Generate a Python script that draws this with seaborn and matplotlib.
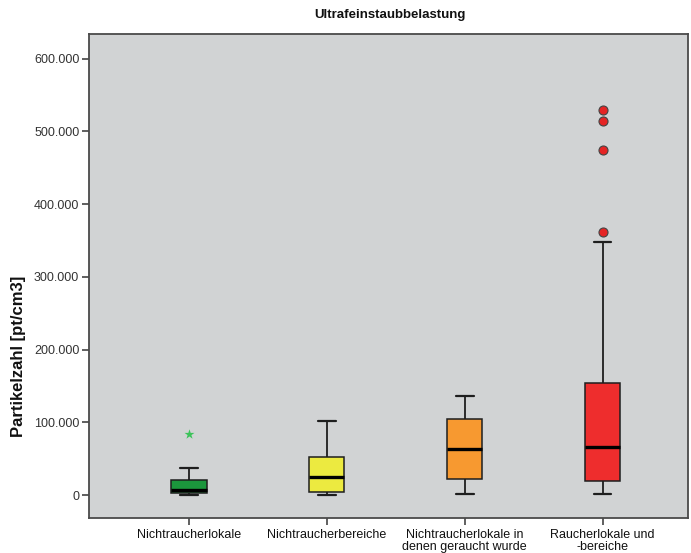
import numpy as np
import pandas as pd
import matplotlib
matplotlib.use("Agg")
import matplotlib.pyplot as plt
import seaborn as sns
from matplotlib.ticker import FuncFormatter, FixedLocator

# Five-number summaries per venue type (particles per cm3)
categories = [
    "Nichtraucherlokale",
    "Nichtraucherbereiche",
    "Nichtraucherlokale in\ndenen geraucht wurde",
    "Raucherlokale und\n-bereiche",
]
whisker_low = [400, 0, 1800, 1800]
q1 = [2300, 3700, 22000, 19300]
median = [6900, 25200, 62900, 65600]
q3 = [20600, 52300, 104200, 154600]
whisker_high = [36700, 102300, 136200, 347700]
extreme_values = [[83500], [], [], []]
outlier_values = [[], [], [], [362300, 474700, 514200, 529800]]
box_colors = ["#1b963c", "#ecea40", "#f79930", "#ee2d2d"]
y_ticks = [0, 100000, 200000, 300000, 400000, 500000, 600000]

# Expand each summary into a sample whose quartiles and whisker ends reproduce it
rows = []
for i, cat in enumerate(categories):
    block = 10
    vals = ([whisker_low[i]] + [q1[i]] * block + [median[i]] * block
            + [q3[i]] * block + [whisker_high[i]]
            + extreme_values[i] + outlier_values[i])
    rows += [(cat, v) for v in vals]
df = pd.DataFrame(rows, columns=["group", "value"])

ext_df = pd.DataFrame([(c, v) for c, vs in zip(categories, extreme_values) for v in vs],
                      columns=["group", "value"])
out_df = pd.DataFrame([(c, v) for c, vs in zip(categories, outlier_values) for v in vs],
                      columns=["group", "value"])

sns.set_style("white")
plt.rcParams["font.family"] = ["Liberation Sans", "DejaVu Sans"]

fig = plt.figure(figsize=(6.91, 5.53), dpi=100)
ax = fig.add_axes([89 / 691, 1 - 518 / 553, (688 - 89) / 691, (518 - 34) / 553])
ax.set_facecolor("#d1d3d4")

sns.boxplot(
    data=df, x="group", y="value", hue="group", order=categories,
    hue_order=categories, palette=box_colors, saturation=1, width=0.255,
    linewidth=1.1, linecolor="#1e1e1e", showfliers=False, legend=False,
    medianprops={"linewidth": 2.4, "color": "black"},
    whiskerprops={"linewidth": 1.3, "color": "#1e1e1e"},
    capprops={"linewidth": 1.6, "color": "#1e1e1e"},
    ax=ax,
)
sns.stripplot(data=out_df, x="group", y="value", order=categories, jitter=False,
              color="#e52424", marker="o", size=6.5, edgecolor="#444444",
              linewidth=0.8, ax=ax, zorder=5)
sns.stripplot(data=ext_df, x="group", y="value", order=categories, jitter=False,
              color="#3cc35a", marker="*", size=7.5, linewidth=0, ax=ax, zorder=5)

ax.set_xlim(-0.726, 3.62)
ax.set_ylim(-31600, 634000)
ax.yaxis.set_major_locator(FixedLocator(y_ticks))
ax.yaxis.set_major_formatter(FuncFormatter(lambda v, p: f"{int(round(v)):,}".replace(",", ".")))
ax.set_xticks(range(len(categories)))
ax.set_xticklabels(categories, fontsize=9, color="#111111", linespacing=1.0)
ax.tick_params(axis="y", labelsize=9, labelcolor="#333333", length=5, width=1.2,
               color="#444444", direction="out", left=True, pad=2)
ax.tick_params(axis="x", length=5, width=1.2, color="#444444", direction="out",
               bottom=True, pad=3)

for s in ax.spines.values():
    s.set_color("#4a4a4a")
    s.set_linewidth(1.3)

ax.set_xlabel("")
ax.set_ylabel("Partikelzahl [pt/cm3]", fontsize=12, fontweight="bold", color="#111111")
ax.yaxis.set_label_coords(-0.105, 0.333)

fig.text(390 / 691, 1 - 15 / 553, "Ultrafeinstaubbelastung", ha="center", va="center",
         fontsize=9.5, fontweight="bold", color="#111111")

fig.savefig("out.png", dpi=100, facecolor="white")
